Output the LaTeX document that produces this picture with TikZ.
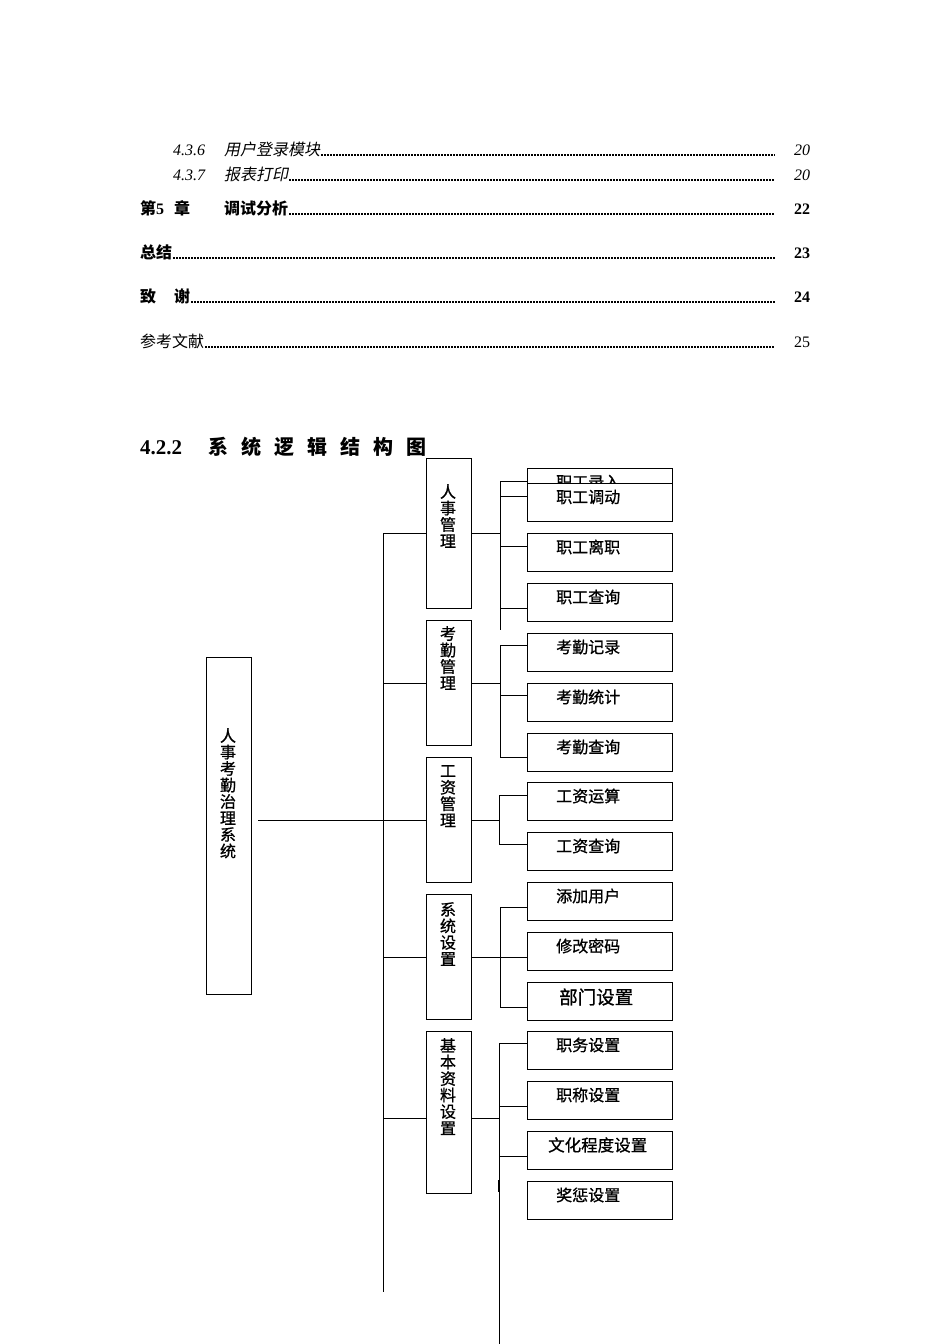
\documentclass[tikz,border=0pt]{standalone}
\usepackage{fontspec}
\setmainfont{Liberation Serif}
\newfontfamily\cjk{Noto Sans CJK SC}
\newfontfamily\cjkm[FakeBold=0.9]{Noto Sans CJK SC}
\newfontfamily\cjkit[FakeSlant=0.2]{Noto Sans CJK SC}
\begin{document}
\begin{tikzpicture}[x=1pt,y=-1pt,
  ln/.style={line width=1pt},
  leaf/.style={draw, fill=white, line width=1pt, minimum width=145pt, minimum height=38pt, inner sep=0pt, anchor=north west},
  mid/.style={draw, fill=white, line width=1pt, minimum width=45pt, inner sep=0pt, anchor=north west},
  lt/.style={font=\cjkm\fontsize{16}{16}\selectfont, anchor=west, inner sep=0pt},
  vt/.style={font=\cjkm\fontsize{16}{16.5}\selectfont, anchor=north, align=center, inner sep=0pt},
  toc/.style={anchor=base west, inner sep=0pt, font=\fontsize{16}{16}\selectfont},
  leader/.style={line width=1.1pt, dash pattern=on 1.1pt off 1.9pt, shorten >=19pt, shorten <=1pt},
  bleader/.style={line width=1.6pt, dash pattern=on 1.3pt off 1.7pt, shorten >=19pt, shorten <=1pt}
]
\useasboundingbox[fill=white] (0,0) rectangle (950,1344);

% ---------- table of contents ----------
\node[toc, font=\fontsize{16}{16}\selectfont\itshape] (n1) at (173,155) {4.3.6};
\node[toc, font=\cjkit\fontsize{16}{16}\selectfont] (c1) at (224,155) {用户登录模块};
\node[toc, font=\fontsize{16}{16}\selectfont\itshape] (p1) at (794,155) {20};
\draw[leader] (c1.base east) -- (p1.base west);

\node[toc, font=\fontsize{16}{16}\selectfont\itshape] (n2) at (173,180) {4.3.7};
\node[toc, font=\cjkit\fontsize{16}{16}\selectfont] (c2) at (224,180) {报表打印};
\node[toc, font=\fontsize{16}{16}\selectfont\itshape] (p2) at (794,180) {20};
\draw[leader] (c2.base east) -- (p2.base west);

\node[toc, font=\fontsize{16}{16}\selectfont\bfseries] (n3) at (140,214) {{\cjk\bfseries 第}5};
\node[toc, font=\cjk\bfseries\fontsize{16}{16}\selectfont] (z3) at (174,214) {章};
\node[toc, font=\cjk\bfseries\fontsize{16}{16}\selectfont] (c3) at (224,214) {调试分析};
\node[toc, font=\fontsize{16}{16}\selectfont\bfseries] (p3) at (794,214) {22};
\draw[bleader] (c3.base east) -- (p3.base west);

\node[toc, font=\cjk\bfseries\fontsize{16}{16}\selectfont] (c4) at (140,258) {总结};
\node[toc, font=\fontsize{16}{16}\selectfont\bfseries] (p4) at (794,258) {23};
\draw[bleader] (c4.base east) -- (p4.base west);

\node[toc, font=\cjk\bfseries\fontsize{16}{16}\selectfont] (c5a) at (140,302) {致};
\node[toc, font=\cjk\bfseries\fontsize{16}{16}\selectfont] (c5) at (174,302) {谢};
\node[toc, font=\fontsize{16}{16}\selectfont\bfseries] (p5) at (794,302) {24};
\draw[bleader] (c5.base east) -- (p5.base west);

\node[toc, font=\cjk\fontsize{16}{16}\selectfont] (c6) at (140,347) {参考文献};
\node[toc, font=\fontsize{16}{16}\selectfont] (p6) at (794,347) {25};
\draw[leader] (c6.base east) -- (p6.base west);

% ---------- heading ----------
\node[toc, font=\fontsize{21}{21}\selectfont\bfseries] (h1) at (140,454) {4.2.2};
\node[toc, font=\cjk\bfseries\fontsize{20}{20}\selectfont] (h2) at (208,454)
  {系\hspace{13pt}统\hspace{13pt}逻\hspace{13pt}辑\hspace{13pt}结\hspace{13pt}构\hspace{13pt}图};

% ---------- root ----------
\node[mid, minimum height=337pt] (root) at (206,657) {};
\node[vt] (rt) at (228,728) {人\\事\\考\\勤\\治\\理\\系\\统};

% ---------- middle boxes ----------
\node[mid, minimum height=150pt] (m1) at (426,458) {};
\node[vt] (mt1) at (448,484) {人\\事\\管\\理};
\node[mid, minimum height=125pt] (m2) at (426,620) {};
\node[vt] (mt2) at (448,626) {考\\勤\\管\\理};
\node[mid, minimum height=125pt] (m3) at (426,757) {};
\node[vt] (mt3) at (448,765) {工\\资\\管\\理};
\node[mid, minimum height=125pt] (m4) at (426,894) {};
\node[vt] (mt4) at (448,902) {系\\统\\设\\置};
\node[mid, minimum height=162pt] (m5) at (426,1031) {};
\node[vt] (mt5) at (448,1038) {基\\本\\资\\料\\设\\置};

% ---------- leaf boxes ----------
\node[leaf] (b1) at (527,468) {};
\node[lt] (t1) at (556,482) {职工录入};
\node[leaf] (b2) at (527,483) {};
\node[lt] (t2) at (556,497) {职工调动};
\node[leaf] (b3) at (527,533) {};
\node[lt] (t3) at (556,547) {职工离职};
\node[leaf] (b4) at (527,583) {};
\node[lt] (t4) at (556,597) {职工查询};
\node[leaf] (b5) at (527,633) {};
\node[lt] (t5) at (556,647) {考勤记录};
\node[leaf] (b6) at (527,683) {};
\node[lt] (t6) at (556,697) {考勤统计};
\node[leaf] (b7) at (527,733) {};
\node[lt] (t7) at (556,747) {考勤查询};
\node[leaf] (b8) at (527,782) {};
\node[lt] (t8) at (556,796) {工资运算};
\node[leaf] (b9) at (527,832) {};
\node[lt] (t9) at (556,846) {工资查询};
\node[leaf] (b10) at (527,882) {};
\node[lt] (t10) at (556,896) {添加用户};
\node[leaf] (b11) at (527,932) {};
\node[lt] (t11) at (556,946) {修改密码};
\node[leaf] (b12) at (527,982) {};
\node[lt, font=\cjkm\fontsize{18.5}{18.5}\selectfont] (t12) at (559,997) {部门设置};
\node[leaf] (b13) at (527,1031) {};
\node[lt] (t13) at (556,1045) {职务设置};
\node[leaf] (b14) at (527,1081) {};
\node[lt] (t14) at (556,1095) {职称设置};
\node[leaf] (b15) at (527,1131) {};
\node[lt, font=\cjkm\fontsize{16.5}{16.5}\selectfont] (t15) at (548,1145) {文化程度设置};
\node[leaf] (b16) at (527,1181) {};
\node[lt] (t16) at (556,1195) {奖惩设置};

% ---------- trunk ----------
\coordinate (trTop) at (383,533);
\coordinate (trBot) at (383,1292);
\coordinate (m5in) at (383,1118);
\draw[ln] (trTop) -- (trBot);
\draw[ln, shorten <=6pt] (root.east |- m3.west) -- (m3.west);
\draw[ln] (m1.west -| trTop) -- (m1.west);
\draw[ln] (m2.west -| trTop) -- (m2.west);
\draw[ln] (m4.west -| trTop) -- (m4.west);
\draw[ln] (m5in) -- (m5in -| m5.west);

% ---------- group 1 ----------
\coordinate (g1a) at (500,481);
\coordinate (g1b) at (500,496);
\coordinate (g1c) at (500,546);
\coordinate (g1d) at (500,608);
\coordinate (g1e) at (500,630);
\draw[ln] (g1a) -- (g1e);
\draw[ln] (m1.east) -- (m1.east -| g1a);
\draw[ln] (g1a) -- (g1a -| b1.west);
\draw[ln] (g1b) -- (g1b -| b2.west);
\draw[ln] (g1c) -- (g1c -| b3.west);
\draw[ln] (g1d) -- (g1d -| b4.west);

% ---------- group 2 ----------
\coordinate (g2a) at (500,645);
\coordinate (g2b) at (500,695);
\coordinate (g2c) at (500,757);
\draw[ln] (g2a) -- (g2c);
\draw[ln] (m2.east) -- (m2.east -| g2a);
\draw[ln] (g2a) -- (g2a -| b5.west);
\draw[ln] (g2b) -- (g2b -| b6.west);
\draw[ln] (g2c) -- (g2c -| b7.west);

% ---------- group 3 ----------
\coordinate (g3a) at (499,795);
\coordinate (g3b) at (499,844);
\draw[ln] (g3a) -- (g3b);
\draw[ln] (m3.east) -- (m3.east -| g3a);
\draw[ln] (g3a) -- (g3a -| b8.west);
\draw[ln] (g3b) -- (g3b -| b9.west);

% ---------- group 4 ----------
\coordinate (g4a) at (500,907);
\coordinate (g4b) at (500,957);
\coordinate (g4c) at (500,1007);
\draw[ln] (g4a) -- (g4c);
\draw[ln] (m4.east) -- (b11.west |- m4.east);
\draw[ln] (g4a) -- (g4a -| b10.west);
\draw[ln] (g4c) -- (g4c -| b12.west);

% ---------- group 5 ----------
\coordinate (g5a) at (499,1043);
\coordinate (g5b) at (499,1106);
\coordinate (g5c) at (499,1156);
\coordinate (g5d) at (499,1344);
\coordinate (g5m) at (499,1118);
\draw[ln] (g5a) -- (g5d);
\draw[line width=2pt] (499,1180) -- (499,1192);
\draw[ln] (m5in -| m5.east) -- (g5m);
\draw[ln] (g5a) -- (g5a -| b13.west);
\draw[ln] (g5b) -- (g5b -| b14.west);
\draw[ln] (g5c) -- (g5c -| b15.west);
\end{tikzpicture}
\end{document}
